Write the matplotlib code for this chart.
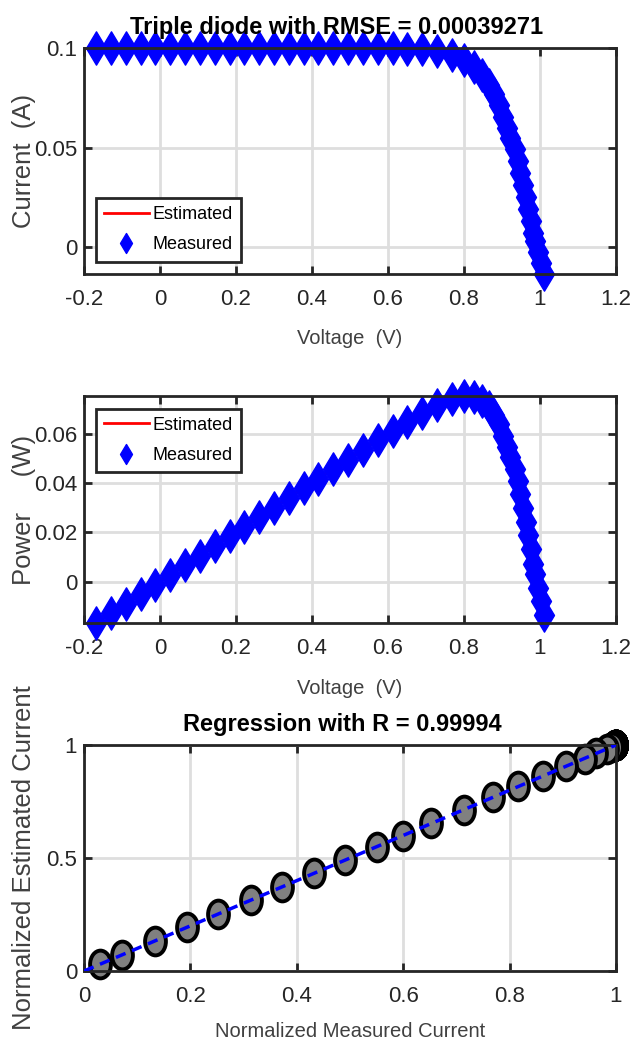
import matplotlib
matplotlib.use("Agg")
import matplotlib.pyplot as plt
from matplotlib.path import Path
from matplotlib.markers import MarkerStyle
from matplotlib.transforms import Affine2D
from matplotlib.ticker import FormatStrFormatter

plt.rcParams['axes.unicode_minus'] = False

fam = ['Liberation Sans', 'DejaVu Sans']

voltage = [-0.168, -0.129, -0.090, -0.051, -0.012, 0.027, 0.066, 0.105, 0.144,
           0.183, 0.222, 0.261, 0.300, 0.339, 0.378, 0.417, 0.456, 0.495, 0.534,
           0.573, 0.612, 0.651, 0.690, 0.729, 0.768, 0.800, 0.826, 0.848, 0.866,
           0.880, 0.892, 0.903, 0.912, 0.921, 0.933, 0.941, 0.948, 0.955, 0.962,
           0.969, 0.976, 0.982, 0.988, 0.996, 1.003, 1.010]
current = [0.1000, 0.1000, 0.1000, 0.1000, 0.1000, 0.1000, 0.1000, 0.1000, 0.1000,
           0.1000, 0.1000, 0.1000, 0.1000, 0.1000, 0.1000, 0.1000, 0.1000, 0.1000, 0.0999,
           0.0999, 0.0998, 0.0997, 0.0993, 0.0983, 0.0963, 0.0941, 0.0907, 0.0863, 0.0816,
           0.0768, 0.0715, 0.0653, 0.0599, 0.0550, 0.0491, 0.0432, 0.0373, 0.0314, 0.0252,
           0.0193, 0.0134, 0.0071, 0.0030, -0.0025, -0.0080, -0.0134]
# estimated curve from the triple diode model (indistinguishable at this scale)
current_est = [0.1000, 0.1000, 0.1000, 0.1000, 0.1000, 0.1000, 0.1000, 0.1000, 0.1000,
               0.1000, 0.1000, 0.1000, 0.1000, 0.1000, 0.1000, 0.1000, 0.1000, 0.1000, 0.0999,
               0.0999, 0.0998, 0.0997, 0.0993, 0.0983, 0.0964, 0.0940, 0.0907, 0.0863, 0.0817,
               0.0768, 0.0714, 0.0653, 0.0599, 0.0550, 0.0491, 0.0432, 0.0373, 0.0315, 0.0252,
               0.0193, 0.0134, 0.0071, 0.0030, -0.0025, -0.0080, -0.0134]

power = [v * i for v, i in zip(voltage, current)]
power_est = [v * i for v, i in zip(voltage, current_est)]

title_top = 'Triple diode with RMSE = 0.00039271'
title_reg = 'Regression with R = 0.99994'

tick_col = '#262626'
label_col = '#404040'
grid_col = '#dedede'

# tall diamond and upright ellipse, like the squeezed MATLAB export
diamond = MarkerStyle(Path([(0, 1), (0.6, 0), (0, -1), (-0.6, 0), (0, 1)],
                           [Path.MOVETO, Path.LINETO, Path.LINETO, Path.LINETO, Path.CLOSEPOLY]))
ellipse = MarkerStyle(Path.unit_circle().transformed(Affine2D().scale(0.75, 1.0)))


def style_axes(ax):
    for s in ax.spines.values():
        s.set_linewidth(2.0)
        s.set_color(tick_col)
    ax.tick_params(direction='in', length=6, width=2, colors=tick_col,
                   top=True, right=True, labelsize=16)
    ax.tick_params(axis='x', pad=11)
    ax.tick_params(axis='y', pad=5)
    for lab in ax.get_xticklabels() + ax.get_yticklabels():
        lab.set_family(fam)
    ax.grid(True, color=grid_col, linewidth=2)
    ax.set_axisbelow(True)
    ax.xaxis.set_major_formatter(FormatStrFormatter('%g'))
    ax.yaxis.set_major_formatter(FormatStrFormatter('%g'))


def add_legend(ax, loc, anchor):
    leg = ax.legend(loc=loc, bbox_to_anchor=anchor, prop={'family': fam, 'size': 13},
                    fancybox=False, framealpha=1, edgecolor=tick_col, markerscale=0.6,
                    handlelength=2.5, borderpad=0.45, labelspacing=0.75, handletextpad=0.2,
                    borderaxespad=0)
    leg.get_frame().set_linewidth(2)


fig = plt.figure(figsize=(6.33, 10.43), dpi=100)
ax1 = fig.add_axes([0.1327, 0.7373, 0.8404, 0.2167])
ax2 = fig.add_axes([0.1327, 0.4027, 0.8404, 0.2176])
ax3 = fig.add_axes([0.1327, 0.0690, 0.8404, 0.2167])

# I-V curve
ax1.plot(voltage, current_est, color='red', linewidth=2, label='Estimated')
ax1.plot(voltage, current, linestyle='none', marker=diamond, markersize=24,
         color='blue', markeredgecolor='blue', clip_on=False, label='Measured')
ax1.set_xlim(-0.2, 1.2)
ax1.set_ylim(min(current), max(current))
ax1.set_xticks([-0.2, 0, 0.2, 0.4, 0.6, 0.8, 1.0, 1.2])
ax1.set_yticks([0, 0.05, 0.1])
style_axes(ax1)
ax1.set_title(title_top, family=fam, fontsize=17, fontweight='bold', pad=10, x=0.475)
ax1.set_xlabel('Voltage  (V)', family=fam, fontsize=14.5, color=label_col, va='top')
ax1.set_ylabel('Current  (A)', family=fam, fontsize=18.5, color=label_col)
ax1.xaxis.set_label_coords(0.5, -0.245)
ax1.yaxis.set_label_coords(-0.09, 0.5)
add_legend(ax1, 'lower left', (0.022, 0.055))

# P-V curve
ax2.plot(voltage, power_est, color='red', linewidth=2, label='Estimated')
ax2.plot(voltage, power, linestyle='none', marker=diamond, markersize=24,
         color='blue', markeredgecolor='blue', clip_on=False, label='Measured')
ax2.set_xlim(-0.2, 1.2)
ax2.set_ylim(min(power), max(power))
ax2.set_xticks([-0.2, 0, 0.2, 0.4, 0.6, 0.8, 1.0, 1.2])
ax2.set_yticks([0, 0.02, 0.04, 0.06])
style_axes(ax2)
ax2.set_xlabel('Voltage  (V)', family=fam, fontsize=14.5, color=label_col, va='top')
ax2.set_ylabel('Power     (W)', family=fam, fontsize=18.5, color=label_col)
ax2.xaxis.set_label_coords(0.5, -0.245)
ax2.yaxis.set_label_coords(-0.09, 0.5)
add_legend(ax2, 'upper left', (0.022, 0.945))

# regression of normalized currents
imax = max(current)
emax = max(current_est)
xs = [i / imax for i in current]
ys = [e / emax for e in current_est]
pts = [(x, y) for x, y in zip(xs, ys) if x >= 0 and y >= 0]
ax3.plot([0, 1], [0, 1], color='blue', linewidth=2.5, linestyle=(0, (3, 2)), zorder=3)
ax3.plot([p[0] for p in pts], [p[1] for p in pts], linestyle='none', marker=ellipse,
         markersize=20, markerfacecolor='#808080', markeredgecolor='black',
         markeredgewidth=2.8, clip_on=False, zorder=2)
ax3.set_xlim(0, 1)
ax3.set_ylim(0, 1)
ax3.set_xticks([0, 0.2, 0.4, 0.6, 0.8, 1])
ax3.set_yticks([0, 0.5, 1])
style_axes(ax3)
ax3.set_title(title_reg, family=fam, fontsize=17, fontweight='bold', pad=10, x=0.486)
ax3.set_xlabel('Normalized Measured Current', family=fam, fontsize=14.5, color=label_col, va='top')
ax3.set_ylabel('Normalized Estimated Current', family=fam, fontsize=18.5, color=label_col)
ax3.xaxis.set_label_coords(0.5, -0.225)
ax3.yaxis.set_label_coords(-0.09, 0.5)

fig.savefig('out.png', dpi=100)
